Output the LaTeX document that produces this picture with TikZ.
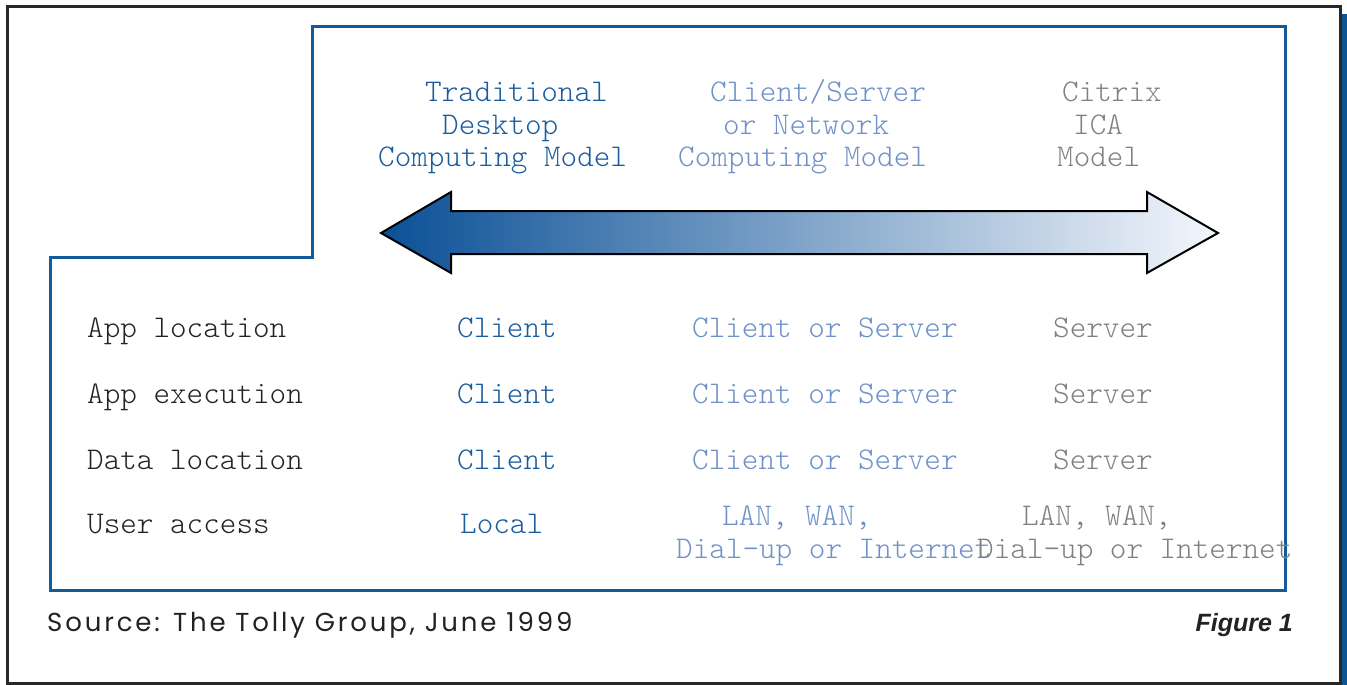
\documentclass[tikz,border=0pt]{standalone}
\usepackage{fontspec}
\setmonofont{Latin Modern Mono Light}
\newfontfamily\srcfont[LetterSpace=11]{Poppins}
\newfontfamily\figfont{Liberation Sans}
\definecolor{framegray}{RGB}{40,40,40}
\definecolor{stripblue}{RGB}{14,85,150}
\definecolor{boxblue}{RGB}{18,90,155}
\definecolor{arrowdark}{RGB}{10,80,150}
\definecolor{arrowmid}{RGB}{85,122,185}
\definecolor{arrowlight}{RGB}{245,247,252}
\definecolor{deskblue}{RGB}{26,92,158}
\definecolor{netblue}{RGB}{111,145,200}
\definecolor{icagray}{RGB}{128,128,128}
\definecolor{rowblack}{RGB}{34,34,34}
\tikzset{
  txt/.style={anchor=base west, inner sep=0pt, font=\ttfamily\fontsize{31.6}{32}\selectfont},
  rowname/.style={txt, text=rowblack},
  desk/.style={txt, text=deskblue},
  netw/.style={txt, text=netblue},
  ica/.style={txt, text=icagray}
}
\begin{document}
\begin{tikzpicture}[x=1pt,y=-1pt]
    \useasboundingbox (0,0) rectangle (1347,685);
    % frame and blue strip
    \draw[framegray, line width=3pt] (7,7) rectangle (1340,683);
    \fill[stripblue] (1342,14) rectangle (1347,685);
    % blue outline
    \draw[boxblue, line width=3pt] (312,27) -- (1285,27) -- (1285,590) -- (50,590) -- (50,257) -- (312,257) -- cycle;
    % double arrow
    \draw[line width=2pt, line join=miter, left color=arrowdark, middle color=arrowmid, right color=arrowlight]
        (381,233) -- (451,192) -- (451,211) -- (1147,211) -- (1147,192) -- (1218,233)
        -- (1147,273) -- (1147,254) -- (451,254) -- (451,273) -- cycle;
    % column heads
    \node[desk] (desk1) at (425,102) {Traditional};
    \node[desk] (desk2) at (442,134) {Desktop};
    \node[desk] (desk3) at (378,166) {Computing Model};
    \node[netw] (netw1) at (710,102) {Client/Server};
    \node[netw] (netw2) at (723,134) {or Network};
    \node[netw] (netw3) at (678,166) {Computing Model};
    \node[ica] (ica1) at (1062,102) {Citrix};
    \node[ica] (ica2) at (1073,134) {ICA};
    \node[ica] (ica3) at (1057,166) {Model};
    % rows
    \node[rowname] (row1) at (87,337) {App location};
    \node[rowname] (row2) at (87,403) {App execution};
    \node[rowname] (row3) at (87,469) {Data location};
    \node[rowname] (row4) at (87,533) {User access};
    \node[desk] (deskr1) at (457,337) {Client};
    \node[desk] (deskr2) at (457,403) {Client};
    \node[desk] (deskr3) at (457,469) {Client};
    \node[desk] (deskr4) at (460,533) {Local};
    \node[netw] (netwr1) at (692,337) {Client or Server};
    \node[netw] (netwr2) at (692,403) {Client or Server};
    \node[netw] (netwr3) at (692,469) {Client or Server};
    \node[netw] (netwr4) at (722,525) {LAN, WAN,};
    \node[netw] (netwr5) at (676,558) {Dial-up or Internet};
    \node[ica] (icar1) at (1053,337) {Server};
    \node[ica] (icar2) at (1053,403) {Server};
    \node[ica] (icar3) at (1053,469) {Server};
    \node[ica] (icar4) at (1022,525) {LAN, WAN,};
    \node[ica] (icar5) at (977,558) {Dial-up or Internet};
    % footer
    \node[anchor=base west, inner sep=0pt, text=rowblack, font=\srcfont\fontsize{26}{30}\selectfont] (source) at (47,631) {Source: The Tolly Group, June 1999};
    \node[anchor=base east, inner sep=0pt, text=rowblack, font=\figfont\bfseries\itshape\fontsize{25}{28}\selectfont] (fig) at (1293,631) {Figure 1};
\end{tikzpicture}
\end{document}
